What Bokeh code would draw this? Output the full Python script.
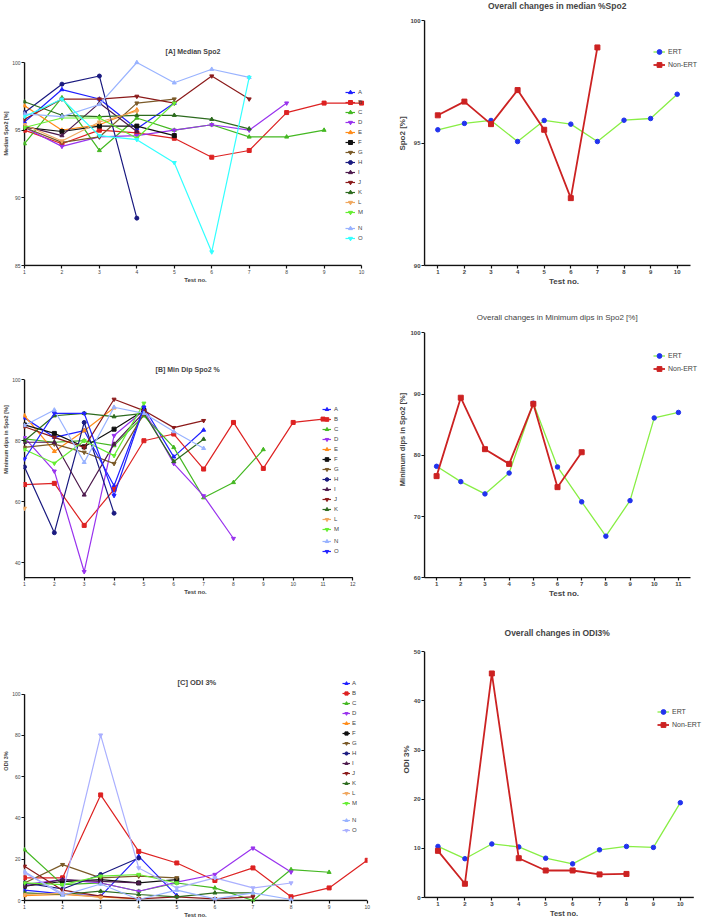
from bokeh.plotting import figure
from bokeh.layouts import column, row
from bokeh.models import FixedTicker, Range1d, Legend, LegendItem, Label
from bokeh.embed import file_html
from bokeh.resources import INLINE

FONT = "Liberation Sans"

subjects = list("ABCDEFGHIJKLMNO")

# ---------------- [A] Median SpO2 per subject (test 1..n) ----------------
median_A = [95.6, 98.0, 97.3, 95.1, 97.0]
median_B = [95.0, 94.0, 95.0, 94.8, 94.4, 93.0, 93.5, 96.3, 97.0, 97.0]
median_C = [94.0, 97.4, 93.5, 95.9, 95.0, 95.4, 94.5, 94.5, 95.0]
median_D = [95.2, 93.8, 94.5, 94.6, 95.0, 95.4, 95.0, 97.0]
median_E = [96.8, 95.0, 95.4, 96.5]
median_F = [95.2, 94.9, 95.3, 95.3, 94.6]
median_G = [95.2, 94.1, 94.5, 97.0, 97.3]
median_H = [96.3, 98.4, 99.0, 88.5]
median_I = [95.3, 94.6, 97.0, 94.9]
median_J = [95.8, 97.3, 97.3, 97.5, 97.0, 99.0, 97.3]
median_K = [97.1, 96.1, 96.0, 96.1, 96.1, 95.8, 95.1]
median_L = [95.4, 94.2, 95.6, 96.4]
median_M = [95.2, 95.9, 95.9, 94.4, 97.0]
median_N = [96.2, 96.0, 96.9, 100.0, 98.5, 99.5, 98.9]
median_O = [96.0, 97.3, 94.6, 94.3, 92.6, 86.0, 98.9]

# ---------------- [B] Min dip SpO2 per subject ----------------
mindip_A = [87.5, 81.1, 83.3, 65.2, 91.0, 74.7, 83.5]
mindip_B = [65.6, 66.0, 52.2, 64.0, 80.0, 82.2, 70.7, 86.0, 70.9, 86.0, 87.1]
mindip_C = [80.6, 79.5, 80.0, 78.4, 88.2, 77.8, 61.3, 66.3, 77.1]
mindip_D = [81.0, 70.0, 37.0, 81.7, 89.9, 72.5, 61.9, 47.9]
mindip_E = [88.2, 76.5, 83.3, 90.8]
mindip_F = [85.2, 82.4, 78.0, 83.8, 89.9]
mindip_G = [77.8, 78.9, 76.2, 72.5, 88.8]
mindip_H = [71.4, 49.8, 86.0, 56.2]
mindip_I = [79.5, 79.5, 62.2, 78.9, 89.3]
mindip_J = [84.6, 81.1, 77.8, 93.6, 89.9, 84.3, 86.6]
mindip_K = [80.0, 88.2, 89.0, 87.9, 89.0, 73.2, 80.5]
mindip_L = [57.8]
mindip_M = [77.1, 72.6, 80.0, 75.1, 92.3]
mindip_N = [85.0, 90.1, 72.9, 91.0, 89.0, 83.0, 77.5]
mindip_O = [74.0, 89.0, 89.0, 62.0, 91.0]

# ---------------- [C] ODI 3% per subject ----------------
odi_A = [5.0, 3.2, 2.1, 21.4, 2.4]
odi_B = [11.0, 11.0, 51.2, 23.8, 18.2, 9.7, 15.8, 1.8, 6.1, 19.5]
odi_C = [24.6, 7.7, 8.5, 4.5, 8.5, 6.1, 0.0, 15.0, 13.7]
odi_D = [7.7, 10.1, 8.5, 4.5, 8.9, 12.6, 25.4, 13.8]
odi_E = [2.4, 2.9, 1.8, 0.8]
odi_F = [6.9, 9.2, 10.1, 8.5, 10.1]
odi_G = [8.5, 17.4, 11.0, 11.8, 11.0]
odi_H = [8.5, 5.6, 12.6, 20.6]
odi_I = [6.9, 10.1, 9.3, 8.5]
odi_J = [16.6, 5.0, 2.1, 0.8, 1.8, 0.8, 1.8]
odi_K = [3.7, 2.9, 4.5, 2.9, 1.8, 3.7, 3.7]
odi_L = [2.9, 3.5, 1.5]
odi_M = [8.5, 7.7, 11.8, 12.6, 8.5]
odi_N = [14.0, 2.5, 8.0, 0.5, 5.0, 0.8, 3.7, 0.5]
odi_O = [13.4, 3.4, 80.2, 15.8, 6.1, 11.0, 6.1, 8.5]

# ---------------- Overall (group) series ----------------
ert_median = [95.54, 95.80, 95.92, 95.06, 95.92, 95.77, 95.06, 95.93, 96.0, 96.99]
nonert_median = [96.13, 96.69, 95.77, 97.16, 95.54, 92.75, 98.9]
ert_mindip = [78.2, 75.7, 73.7, 77.1, 88.5, 78.1, 72.4, 66.8, 72.6, 86.1, 87.0]
nonert_mindip = [76.6, 89.4, 81.0, 78.6, 88.4, 74.8, 80.5]
ert_odi = [10.4, 7.9, 10.9, 10.3, 8.0, 6.85, 9.7, 10.4, 10.2, 19.3]
nonert_odi = [9.5, 2.8, 45.6, 8.0, 5.5, 5.5, 4.7, 4.8]

median_series = [median_A, median_B, median_C, median_D, median_E, median_F, median_G,
                 median_H, median_I, median_J, median_K, median_L, median_M, median_N, median_O]
mindip_series = [mindip_A, mindip_B, mindip_C, mindip_D, mindip_E, mindip_F, mindip_G,
                 mindip_H, mindip_I, mindip_J, mindip_K, mindip_L, mindip_M, mindip_N, mindip_O]
odi_series = [odi_A, odi_B, odi_C, odi_D, odi_E, odi_F, odi_G,
              odi_H, odi_I, odi_J, odi_K, odi_L, odi_M, odi_N, odi_O]

base_colors = ["#1f1fff", "#dd2222", "#44b822", "#9933ee", "#ff8c1a", "#111111", "#7a5a28",
               "#1a1a80", "#4d1a4d", "#8b1a1a", "#2d6b1f", "#f0a860", "#66ee33", "#99b3ff"]
o_colors = {"A": "#33ffff", "B": "#2222ff", "C": "#aab0ff"}
markers = ["triangle", "square", "triangle", "inverted_triangle", "triangle", "square",
           "inverted_triangle", "circle", "triangle", "inverted_triangle", "triangle",
           "inverted_triangle", "inverted_triangle", "triangle", "inverted_triangle"]

ERT_LINE = "#88ee44"
ERT_MARK = "#2233ee"
NON_RED = "#cc2222"
AXIS = "#111111"


def make_fig(w, h, frame, axis_px, xr, yr, xticks, yticks,
             xlabel, ylabel, tick_size, tick_bold, xlab_size, ylab_size):
    fl, fr, ft, fb = frame
    axl, axr, ayt, ayb = axis_px
    xmin, xmax = xr
    ymin, ymax = yr
    sx = (axr - axl) / (xmax - xmin)
    sy = (ayb - ayt) / (ymax - ymin)
    x_start = xmin - (axl - fl) / sx
    x_end = xmax + (fr - axr) / sx
    y_start = ymin - (fb - ayb) / sy
    y_end = ymax + (ayt - ft) / sy
    p = figure(width=w, height=h, x_range=Range1d(x_start, x_end), y_range=Range1d(y_start, y_end),
               output_backend="svg", toolbar_location=None, title=None,
               min_border_left=fl, min_border_right=w - fr,
               min_border_top=ft, min_border_bottom=h - fb)
    p.outline_line_color = None
    p.xgrid.visible = False
    p.ygrid.visible = False
    for ax, ticks, lab, lsize in ((p.xaxis, xticks, xlabel, xlab_size), (p.yaxis, yticks, ylabel, ylab_size)):
        ax.ticker = FixedTicker(ticks=ticks)
        ax.axis_label = lab
        ax.axis_label_text_font = FONT
        ax.axis_label_text_font_size = lsize
        ax.axis_label_text_font_style = "bold"
        ax.axis_label_standoff = 0
        ax.major_label_text_font = FONT
        ax.major_label_text_font_size = tick_size
        ax.major_label_text_font_style = "bold" if tick_bold else "normal"
        ax.major_label_standoff = 1
        ax.axis_line_color = None
        ax.major_tick_line_width = 1.2
        ax.major_tick_line_color = AXIS
        ax.major_tick_out = 2
        ax.major_tick_in = 1
        ax.minor_tick_out = 0
        ax.minor_tick_in = 0
    # axis lines drawn as glyphs so that the frame can be larger than the axes
    p.segment(x0=[xmin, xmin], y0=[ymin, ymin], x1=[xmax, xmin], y1=[ymin, ymax],
              line_color=AXIS, line_width=1.5)
    return p


def add_title(p, frame, text, cx, cy, size, bold):
    fl, fr, ft, fb = frame
    p.add_layout(Label(x=cx - fl, y=fb - cy, x_units="screen", y_units="screen",
                       text=text, text_font=FONT, text_font_size=size,
                       text_font_style="bold" if bold else "normal",
                       text_align="center", text_baseline="middle"))


def add_legend(p, items, x, first_center, item_h, frame_h, font_size, glyph_w, standoff):
    n = len(items)
    y = frame_h - (first_center - item_h / 2.0) - n * item_h
    leg = Legend(items=items, location=(x, y), padding=0, spacing=0, margin=0,
                 glyph_height=item_h, label_height=item_h, glyph_width=glyph_w,
                 label_standoff=standoff, label_text_font=FONT, label_text_font_size=font_size,
                 border_line_color=None, background_fill_alpha=0)
    p.add_layout(leg)


def subject_panel(p, series, o_color):
    items = []
    for i, (name, ys) in enumerate(zip(subjects, series)):
        color = o_color if name == "O" else base_colors[i]
        xs = list(range(1, len(ys) + 1))
        r1 = p.line(xs, ys, line_color=color, line_width=1.2)
        r2 = p.scatter(xs, ys, marker=markers[i], size=4, fill_color=color, line_color=color)
        items.append(LegendItem(label=name, renderers=[r1, r2]))
    return items


def group_panel(p, ert, non):
    xe = list(range(1, len(ert) + 1))
    xn = list(range(1, len(non) + 1))
    l1 = p.line(xe, ert, line_color=ERT_LINE, line_width=1.3)
    s1 = p.scatter(xe, ert, marker="circle", size=4.5, fill_color=ERT_MARK, line_color=ERT_MARK)
    l2 = p.line(xn, non, line_color=NON_RED, line_width=1.8)
    s2 = p.scatter(xn, non, marker="square", size=5, fill_color=NON_RED, line_color=NON_RED)
    return [LegendItem(label="ERT", renderers=[l1, s1]),
            LegendItem(label="Non-ERT", renderers=[l2, s2])]


LW, RW = 388, 316

# ---- Left column ----
frA = (21, 367, 0, 266)
pA = make_fig(LW, 300, frA, (22, 361, 62, 265), (1, 10), (85, 100), list(range(1, 11)),
              [85, 90, 95, 100], "Test no.", "Median Spo2 [%]", "5px", False, "6px", "5.5px")
itA = subject_panel(pA, median_series, o_colors["A"])
hA = frA[3] - frA[2]
add_legend(pA, itA[:13], 322, 92 - frA[2], 10, hA, "6px", 10, 3)
add_legend(pA, itA[13:], 322, 228.3 - frA[2], 10, hA, "6px", 10, 3)
add_title(pA, frA, "[A] Median  Spo2", (22 + 361) / 2, 51, "7px", True)

frB = (21, 367, 0, 278)
pB = make_fig(LW, 320, frB, (22, 352.3, 79.3, 277.3), (1, 12), (35, 100), list(range(1, 13)),
              [40, 60, 80, 100], "Test no.", "Minimum dips in Spo2 [%]", "5px", False, "6px", "5.5px")
itB = subject_panel(pB, mindip_series, o_colors["B"])
hB = frB[3] - frB[2]
add_legend(pB, itB[:13], 299, 108.7 - frB[2], 10, hB, "6px", 9, 3)
add_legend(pB, itB[13:], 299, 241 - frB[2], 10, hB, "6px", 9, 3)
add_title(pB, frB, "[B]  Min Dip  Spo2 %", (22 + 352.3) / 2, 69, "7px", True)

frC = (21, 367, 0, 282)
pC = make_fig(LW, 300, frC, (22, 366.7, 74, 281), (1, 10), (0, 100), list(range(1, 11)),
              [0, 20, 40, 60, 80, 100], "Test no.", "ODI 3%", "5px", False, "6px", "5.5px")
itC = subject_panel(pC, odi_series, o_colors["C"])
hC = frC[3] - frC[2]
add_legend(pC, itC[:13], 319, 64 - frC[2], 10, hC, "6px", 8, 2)
add_legend(pC, itC[13:], 319, 201 - frC[2], 10, hC, "6px", 8, 2)
add_title(pC, frC, "[C] ODI 3%", (22 + 366.7) / 2, 63.3, "7.5px", True)

# ---- Right column ----
frAr = (35, 316, 0, 266)
pAr = make_fig(RW, 300, frAr, (36, 302, 20, 265), (0.5, 10.5), (90, 100), list(range(1, 11)),
               [90, 95, 100], "Test no.", "Spo2 [%]", "6px", True, "8px", "8px")
itAr = group_panel(pAr, ert_median, nonert_median)
add_legend(pAr, itAr, 230, 51.7 - frAr[2], 13, frAr[3] - frAr[2], "7px", 12, 3)
add_title(pAr, frAr, "Overall changes in median %Spo2", 168.7, 5.5, "8.5px", True)

frBr = (35, 316, 0, 278)
pBr = make_fig(RW, 320, frBr, (36, 302, 32.3, 277.3), (0.5, 11.5), (60, 100), list(range(1, 12)),
               [60, 70, 80, 90, 100], "Test no.", "Minimum dips in Spo2 [%]", "6px", True, "8px", "7.5px")
itBr = group_panel(pBr, ert_mindip, nonert_mindip)
add_legend(pBr, itBr, 230, 55 - frBr[2], 13, frBr[3] - frBr[2], "7px", 12, 3)
add_title(pBr, frBr, "Overall changes in Minimum dips in Spo2 [%]", 168.7, 16.7, "8px", False)

frCr = (35, 316, 0, 281)
pCr = make_fig(RW, 300, frCr, (36, 305.3, 31.7, 280), (0.5, 10.5), (0, 50), list(range(1, 11)),
               [0, 10, 20, 30, 40, 50], "Test no.", "ODI 3%", "6px", True, "7.5px", "8px")
itCr = group_panel(pCr, ert_odi, nonert_odi)
add_legend(pCr, itCr, 234, 94 - frCr[2], 13, frCr[3] - frCr[2], "7px", 12, 3)
add_title(pCr, frCr, "Overall changes in ODI3%", 168.7, 15, "8.5px", True)

layout = row(column(pA, pB, pC), column(pAr, pBr, pCr))

open("out.html", "w").write(file_html(layout, INLINE))
